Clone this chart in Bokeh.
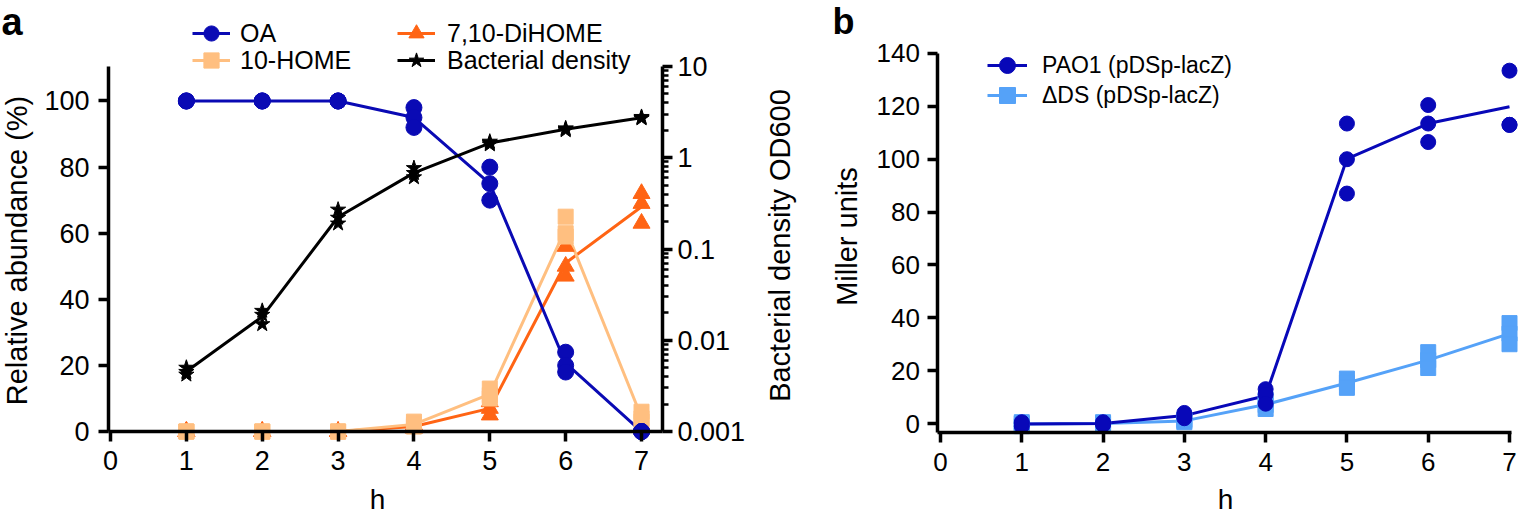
import math
import numpy as np
from bokeh.plotting import figure
from bokeh.models import (Range1d, LogAxis, LogScale, FixedTicker, CustomJSTickFormatter,
                          Legend, LegendItem, Label)
from bokeh.layouts import row
from bokeh.embed import file_html
from bokeh.resources import INLINE

# ---------------- data ----------------
hours = [1, 2, 3, 4, 5, 6, 7]
x_ticks = [0, 1, 2, 3, 4, 5, 6, 7]

# panel a: replicate values per hour
oa_reps = [[100, 100, 100], [100, 100, 100], [100, 100, 100], [98, 95, 92],
           [80, 75, 70], [24, 20, 18], [0, 0, 0]]
home10_reps = [[0, 0, 0], [0, 0, 0], [0, 0, 0], [3, 2, 1.5],
               [13, 11, 10], [65, 60, 59], [6, 4, 3]]
dihome_reps = [[0, 0, 0], [0, 0, 0], [0, 0, 0], [2, 1.5, 1],
               [9, 7, 5], [56, 50, 47], [72, 69, 63]]
density_reps = [[0.005, 0.0042, 0.0045], [0.021, 0.019, 0.015], [0.27, 0.22, 0.19],
                [0.77, 0.68, 0.61], [1.5, 1.45, 1.4], [2.1, 2.05, 2.0], [2.8, 2.75, 2.7]]
a_y_ticks = [0, 20, 40, 60, 80, 100]
od_ticks = [0.001, 0.01, 0.1, 1, 10]

# panel b
pao1_reps = [[0, -1, 0.5], [0, 0.5, -0.5], [4, 2, 3], [13, 11, 7.5],
             [113.5, 100, 87], [120.5, 113.5, 106.5], [133.5, 113, 113]]
dds_reps = [[0, -1, 0.5], [0.5, 0, -0.5], [1, 0.5, 1.5], [9, 7, 5.5],
            [17, 15.5, 13.5], [27, 24, 21], [38, 34, 30]]
b_y_ticks = [0, 20, 40, 60, 80, 100, 120, 140]

labels_a = ["OA", "10-HOME", "7,10-DiHOME", "Bacterial density"]
labels_b = ["PAO1 (pDSp-lacZ)", "\u0394DS (pDSp-lacZ)"]

FONT = "Liberation Sans"
C_OA = "#0a0ab4"
C_HOME = "#ffbf80"
C_DIHOME = "#ff6414"
C_DENS = "#000000"
C_PAO1 = "#0808b8"
C_DDS = "#55a2f8"

H = 515
MID = 0.3465  # centre of the text box above the baseline, in em


def flat(reps):
    xs, ys = [], []
    for h, r in zip(hours, reps):
        for v in r:
            xs.append(h)
            ys.append(v)
    return xs, ys


def style_axis(ax, size, standoff=8):
    ax.axis_line_width = 3.5
    ax.axis_line_color = "black"
    ax.major_tick_line_width = 3.5
    ax.major_tick_line_color = "black"
    ax.major_tick_out = 10
    ax.major_tick_in = 0
    ax.minor_tick_line_color = None
    ax.major_label_text_font = FONT
    ax.major_label_text_font_size = f"{size}px"
    ax.major_label_text_color = "black"
    ax.major_label_standoff = standoff


def text_label(p, x, y, text, size, angle=0.0, align="center", bold=False):
    lab = Label(x=x, y=y, x_units="screen", y_units="screen", text=text,
                text_font=FONT, text_font_size=f"{size}px", text_color="black",
                text_align=align, text_baseline="middle", angle=angle,
                text_font_style="bold" if bold else "normal")
    p.add_layout(lab)


def horiz_label(p, x, baseline_px, text, size, align="center", bold=False):
    # baseline_px: page y of the text baseline
    text_label(p, x, H - (baseline_px - MID * size), text, size, align=align, bold=bold)


def vert_label(p, baseline_x, center_y_px, text, size):
    # text reading bottom-to-top whose baseline lies at page x = baseline_x
    text_label(p, baseline_x - MID * size, H - center_y_px, text, size, angle=math.pi / 2)


def add_legend_row(p, item, center_px, x, gw, gh, standoff, fsize):
    # one legend per row, so that the row pitch can be set freely
    leg = Legend(items=[item], glyph_width=gw, glyph_height=gh, label_height=gh,
                 spacing=0, padding=0, margin=0, location=(x, H - center_px - gh / 2.0),
                 border_line_color=None, background_fill_alpha=0,
                 label_text_font=FONT, label_text_font_size=f"{fsize}px",
                 label_text_color="black", label_standoff=standoff)
    p.add_layout(leg)


# ---------------- panel a ----------------
# the frame covers the whole canvas; axes are drawn at fixed data locations
pa = figure(width=830, height=H, output_backend="svg", toolbar_location=None,
            x_range=Range1d(-1.450, 9.491), y_range=Range1d(-25.4, 130.4),
            min_border=0)
pa.grid.visible = False
pa.outline_line_color = None
pa.background_fill_color = "white"
pa.extra_y_ranges = {"od": Range1d(10 ** -3.9205, 10 ** 1.7233)}
pa.extra_y_scales = {"od": LogScale()}

xa = pa.xaxis[0]
style_axis(xa, 27, 9)
xa.ticker = FixedTicker(ticks=x_ticks)
xa.fixed_location = 0
xa.bounds = (-0.026, 7.277)

ya = pa.yaxis[0]
style_axis(ya, 27, 9)
ya.ticker = FixedTicker(ticks=a_y_ticks)
ya.fixed_location = -0.026
ya.bounds = (0, 110.4)

minor_od = [k * 10 ** e for e in range(-3, 1) for k in range(2, 10)]
od_axis = LogAxis(y_range_name="od",
                  ticker=FixedTicker(ticks=od_ticks, minor_ticks=minor_od),
                  formatter=CustomJSTickFormatter(code="return tick.toString();"))
style_axis(od_axis, 27, 5)
od_axis.minor_tick_line_color = "black"
od_axis.minor_tick_line_width = 2.5
od_axis.minor_tick_out = 6
od_axis.minor_tick_in = 0
od_axis.fixed_location = 7.277
od_axis.bounds = (0.001, 10)
pa.add_layout(od_axis, "right")

series_a = [
    (dihome_reps, C_DIHOME, "triangle", 17),
    (home10_reps, C_HOME, "square", 15),
    (oa_reps, C_OA, "circle", 16),
]
lines_a, scat_a = [], []
for reps, col, mk, sz in series_a:
    means = [float(np.mean(r)) for r in reps]
    lines_a.append(pa.line(hours, means, line_color=col, line_width=3))
dens_means = [float(np.exp(np.mean(np.log(r)))) for r in density_reps]
ln_d = pa.line(hours, dens_means, line_color=C_DENS, line_width=3, y_range_name="od")
for reps, col, mk, sz in series_a:
    xs, ys = flat(reps)
    scat_a.append(pa.scatter(xs, ys, marker=mk, size=sz, fill_color=col, line_color=col))
xs, ys = flat(density_reps)
sc_d = pa.scatter(xs, ys, marker="star", size=16, fill_color=C_DENS, line_color=C_DENS,
                  y_range_name="od")

add_legend_row(pa, LegendItem(label=labels_a[0], renderers=[lines_a[2], scat_a[2]]),
               33, 192, 38, 42, 10, 25)
add_legend_row(pa, LegendItem(label=labels_a[1], renderers=[lines_a[1], scat_a[1]]),
               60, 192, 38, 42, 10, 25)
add_legend_row(pa, LegendItem(label=labels_a[2], renderers=[lines_a[0], scat_a[0]]),
               33, 397, 38, 42, 12, 25)
add_legend_row(pa, LegendItem(label=labels_a[3], renderers=[ln_d, sc_d]),
               60, 397, 38, 42, 12, 25)

horiz_label(pa, 1, 35, "a", 38, align="left", bold=True)
vert_label(pa, 27, 250, "Relative abundance (%)", 29)
vert_label(pa, 790, 245, "Bacterial density OD600", 29)
horiz_label(pa, 377, 509, "h", 28)

# ---------------- panel b ----------------
pb = figure(width=689, height=H, output_backend="svg", toolbar_location=None,
            x_range=Range1d(-1.353, 7.123), y_range=Range1d(-34.8, 160.05),
            min_border=0)
pb.grid.visible = False
pb.outline_line_color = None
pb.background_fill_color = "white"

xb = pb.xaxis[0]
style_axis(xb, 26, 10)
xb.ticker = FixedTicker(ticks=x_ticks)
xb.fixed_location = -3.4
xb.bounds = (-0.031, 7.02)
yb = pb.yaxis[0]
style_axis(yb, 26, 8)
yb.ticker = FixedTicker(ticks=b_y_ticks)
yb.fixed_location = -0.031
yb.bounds = (-3.4, 140)

series_b = [(dds_reps, C_DDS, "square", 15), (pao1_reps, C_PAO1, "circle", 15)]
lines_b, scat_b = [], []
for reps, col, mk, sz in series_b:
    means = [float(np.mean(r)) for r in reps]
    lines_b.append(pb.line(hours, means, line_color=col, line_width=3))
for reps, col, mk, sz in series_b:
    xs, ys = flat(reps)
    scat_b.append(pb.scatter(xs, ys, marker=mk, size=sz, fill_color=col, line_color=col))

add_legend_row(pb, LegendItem(label=labels_b[0], renderers=[lines_b[1], scat_b[1]]),
               65, 157, 40, 40, 15, 23)
add_legend_row(pb, LegendItem(label=labels_b[1], renderers=[lines_b[0], scat_b[0]]),
               95, 157, 40, 40, 15, 23)

horiz_label(pb, 2, 33, "b", 36, align="left", bold=True)
vert_label(pb, 27, 236, "Miller units", 29)
horiz_label(pb, 395, 509, "h", 28)

layout = row(pa, pb)
open("out.html", "w").write(file_html(layout, INLINE))
